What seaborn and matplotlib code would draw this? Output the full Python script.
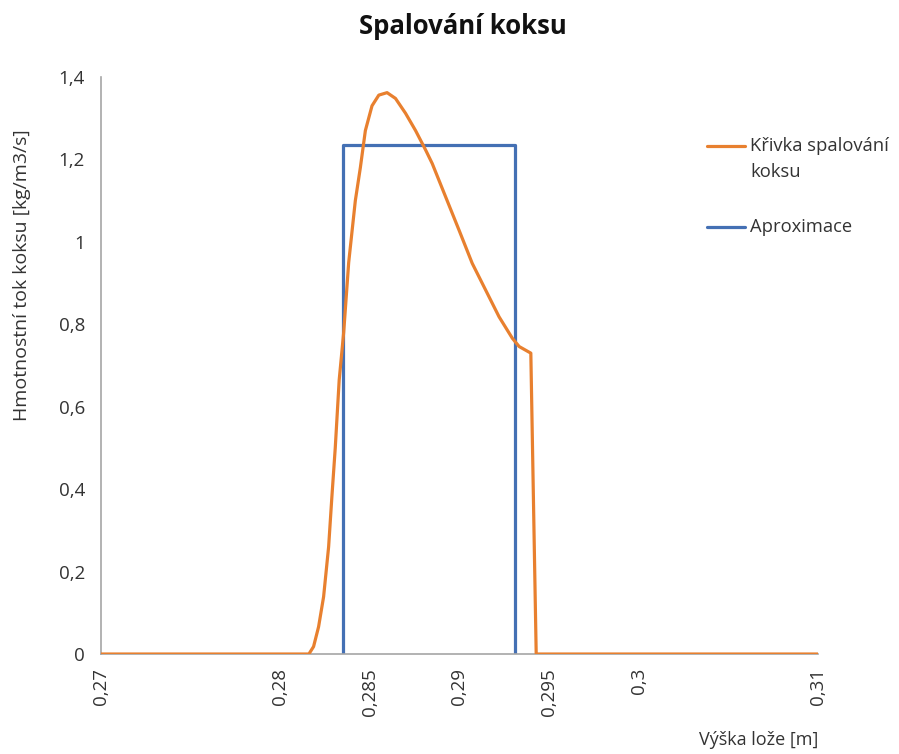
# Spalování koksu - burning curve of coke vs bed height, with rectangle approximation

import pandas as pd
import seaborn as sns
import matplotlib.pyplot as plt
from matplotlib.lines import Line2D

# curve
vyska = [0.27, 0.2816, 0.28186, 0.28214, 0.28242, 0.2827, 0.28288, 0.28307, 0.28329,
         0.28354, 0.28382, 0.28419, 0.28447, 0.28475, 0.28512, 0.2855, 0.28596,
         0.28643, 0.28699, 0.28755, 0.28811, 0.28848, 0.28922, 0.28997, 0.29071,
         0.29146, 0.29221, 0.29295, 0.29333, 0.29398, 0.29428, 0.31]
tok = [0, 0, 0.018, 0.066, 0.139, 0.26, 0.38, 0.50, 0.665,
       0.78, 0.95, 1.10, 1.18, 1.27, 1.33, 1.356, 1.362,
       1.348, 1.312, 1.27, 1.223, 1.19, 1.11, 1.029, 0.948,
       0.883, 0.818, 0.766, 0.746, 0.73, 0, 0]

# approximation (rectangle)
aprox_x = [0.28348, 0.28348, 0.29308, 0.29308]
aprox_y = [0, 1.235, 1.235, 0]

x_ticks = [0.27, 0.28, 0.285, 0.29, 0.295, 0.3, 0.31]
y_ticks = [0, 0.2, 0.4, 0.6, 0.8, 1.0, 1.2, 1.4]

orange = '#E8802F'
blue = '#4470B4'
txt = '#333333'

sns.set_style("white")
plt.rcParams['font.family'] = ['Open Sans', 'DejaVu Sans']

fig = plt.figure(figsize=(8.99, 7.54), dpi=100)
ax = fig.add_axes([0.1123, 0.1326, 0.7976, 0.7653])

df_curve = pd.DataFrame({'x': vyska, 'y': tok})
df_aprox = pd.DataFrame({'x': aprox_x, 'y': aprox_y})

sns.lineplot(data=df_curve, x='x', y='y', sort=False, estimator=None, color=orange,
             linewidth=2.3, ax=ax, zorder=3)
sns.lineplot(data=df_aprox, x='x', y='y', sort=False, estimator=None, color=blue,
             linewidth=2.3, ax=ax, zorder=2)

ax.set_xlim(0.27, 0.31)
ax.set_ylim(0, 1.4)
ax.set_xticks(x_ticks)
ax.set_xticklabels([('%g' % v).replace('.', ',') for v in x_ticks], rotation=90,
                   fontsize=13.5, color=txt)
ax.set_yticks(y_ticks)
ax.set_yticklabels([('%g' % v).replace('.', ',') for v in y_ticks], fontsize=13.5,
                   color=txt)
ax.tick_params(axis='both', length=0)
ax.tick_params(axis='x', pad=10)
ax.tick_params(axis='y', pad=11.5)

for s in ['top', 'right']:
    ax.spines[s].set_visible(False)
for s in ['left', 'bottom']:
    ax.spines[s].set_color('#a6a6a6')
    ax.spines[s].set_linewidth(1.2)

ax.set_xlabel('')
ax.set_ylabel('')
fig.text(818 / 899, 1 - 740 / 754, 'Výška lože [m]', ha='right', va='center',
         fontsize=13, color=txt)
fig.text(22 / 899, 1 - 275 / 754, 'Hmotnostní tok koksu [kg/m3/s]', rotation=90,
         ha='center', va='center', fontsize=14, color=txt)
fig.text(463 / 899, 1 - 27 / 754, 'Spalování koksu', ha='center', va='center',
         fontsize=18.5, fontweight='bold', color='#111111')

# legend, drawn by hand so the orange key sits on the first text line
for col, ypx in [(orange, 146), (blue, 227)]:
    fig.add_artist(Line2D([707 / 899, 745 / 899], [1 - ypx / 754] * 2,
                          transform=fig.transFigure, color=col, linewidth=2.3))
fig.text(750 / 899, 1 - 146 / 754, 'Křivka spalování', ha='left', va='center',
         fontsize=13.2, color=txt)
fig.text(750 / 899, 1 - 172 / 754, 'koksu', ha='left', va='center',
         fontsize=13.2, color=txt)
fig.text(750 / 899, 1 - 227 / 754, 'Aproximace', ha='left', va='center',
         fontsize=13.2, color=txt)

fig.savefig('out.png', dpi=100)
